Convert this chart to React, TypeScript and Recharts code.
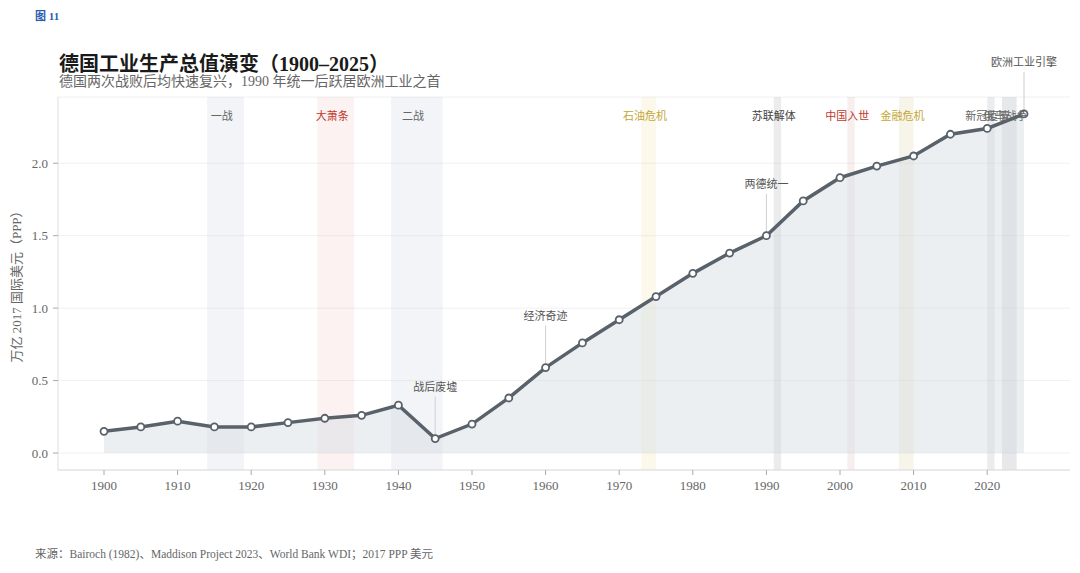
import {
  ComposedChart,
  Area,
  Line,
  XAxis,
  YAxis,
  CartesianGrid,
  ReferenceArea,
  ReferenceLine,
} from 'recharts';

const years = [
  1900, 1905, 1910, 1915, 1920, 1925, 1930, 1935, 1940, 1945, 1950, 1955, 1960,
  1965, 1970, 1975, 1980, 1985, 1990, 1995, 2000, 2005, 2010, 2015, 2020, 2025,
];
const output = [
  0.15, 0.18, 0.22, 0.18, 0.18, 0.21, 0.24, 0.26, 0.33, 0.1, 0.2, 0.38, 0.59,
  0.76, 0.92, 1.08, 1.24, 1.38, 1.5, 1.74, 1.9, 1.98, 2.05, 2.2, 2.24, 2.34,
];

const xTicks = [1900, 1910, 1920, 1930, 1940, 1950, 1960, 1970, 1980, 1990, 2000, 2010, 2020];
const yTicks = [0, 0.5, 1, 1.5, 2];

// historical events: band runs from start to end + 1
const eventNames = ['一战', '大萧条', '二战', '石油危机', '苏联解体', '中国入世', '金融危机', '新冠疫情', '俄乌战争'];
const eventStart = [1914, 1929, 1939, 1973, 1991, 2001, 2008, 2020, 2022];
const eventEnd = [1918, 1933, 1945, 1974, 1991, 2001, 2009, 2020, 2023];
const eventKind = ['war', 'depression', 'war', 'oil', 'geo', 'china', 'finance', 'covid', 'war2'];

const noteLabels = ['战后废墟', '经济奇迹', '两德统一', '欧洲工业引擎'];
const noteYears = [1945, 1960, 1990, 2025];

const kindStyle: Record<string, { band: string; opacity: number; text: string }> = {
  war: { band: '#c3cfd9', opacity: 0.22, text: '#666666' },
  depression: { band: '#f5b0b0', opacity: 0.16, text: '#c0392b' },
  oil: { band: '#eedc8a', opacity: 0.16, text: '#c4a735' },
  geo: { band: '#b5b5b5', opacity: 0.26, text: '#444444' },
  china: { band: '#d8b0aa', opacity: 0.2, text: '#c0392b' },
  finance: { band: '#d6cf98', opacity: 0.2, text: '#c4a735' },
  covid: { band: '#b0b5ba', opacity: 0.26, text: '#666666' },
  war2: { band: '#aeb3b8', opacity: 0.3, text: '#666666' },
};

const data = years.map((year, i) => ({ year, value: output[i] }));

const SERIF = "'Liberation Serif', 'Noto Sans CJK SC', serif";
const LINE = '#59616a';
const NOTE_RISE = 0.29;

export default function App() {
  return (
    <div
      style={{
        position: 'absolute',
        left: 0,
        top: 0,
        width: 1080,
        height: 573,
        background: '#ffffff',
        fontFamily: SERIF,
      }}
    >
      <div style={{ position: 'absolute', left: 35, top: 10, fontSize: 11, lineHeight: '12px', fontWeight: 700, color: '#2a5cb0' }}>
        图 11
      </div>
      <div style={{ position: 'absolute', left: 59, top: 53, fontSize: 20, lineHeight: '22px', fontWeight: 700, color: '#1a1a1a' }}>
        德国工业生产总值演变（1900–2025）
      </div>
      <div style={{ position: 'absolute', left: 59, top: 74, fontSize: 14, lineHeight: '16px', color: '#666666' }}>
        德国两次战败后均快速复兴，1990 年统一后跃居欧洲工业之首
      </div>

      <ComposedChart
        width={1080}
        height={573}
        data={data}
        margin={{ top: 97, right: 10, left: 0, bottom: 0 }}
      >
        <CartesianGrid stroke="#f0f0f0" vertical={false} />
        <XAxis
          dataKey="year"
          type="number"
          domain={[1893.75, 2031.25]}
          ticks={xTicks}
          allowDataOverflow
          height={103}
          tick={{ fill: '#666', fontSize: 13, fontFamily: SERIF }}
          axisLine={{ stroke: '#dddddd' }}
          tickLine={{ stroke: '#aaaaaa' }}
          tickSize={5}
          tickMargin={6}
        />
        <YAxis
          type="number"
          domain={[-0.117, 2.457]}
          ticks={yTicks}
          allowDataOverflow
          width={58}
          tickFormatter={(v) => v.toFixed(1)}
          tick={{ fill: '#666', fontSize: 13, fontFamily: SERIF }}
          axisLine={{ stroke: '#dddddd' }}
          tickLine={{ stroke: '#aaaaaa' }}
          tickSize={5}
          tickMargin={5}
          label={{
            value: '万亿 2017 国际美元（PPP）',
            angle: -90,
            position: 'insideLeft',
            offset: 16,
            style: { textAnchor: 'middle', fill: '#666', fontSize: 13, fontFamily: SERIF },
          }}
        />

        {eventNames.map((name, i) => (
          <ReferenceArea
            key={`band-${name}`}
            x1={eventStart[i]}
            x2={eventEnd[i] + 1}
            fill={kindStyle[eventKind[i]].band}
            fillOpacity={kindStyle[eventKind[i]].opacity}
            stroke="none"
          />
        ))}

        <Area
          dataKey="value"
          type="linear"
          baseValue={0}
          stroke="none"
          fill="#d5dce3"
          fillOpacity={0.45}
          isAnimationActive={false}
        />
        <Line
          dataKey="value"
          type="linear"
          stroke={LINE}
          strokeWidth={3.5}
          dot={{ r: 3.5, fill: '#ffffff', stroke: LINE, strokeWidth: 1.8 }}
          activeDot={false}
          isAnimationActive={false}
        />

        {eventNames.map((name, i) => (
          <ReferenceLine
            key={`label-${name}`}
            x={(eventStart[i] + eventEnd[i]) / 2}
            stroke="none"
            label={{
              value: name,
              position: 'insideTop',
              offset: 15,
              fill: kindStyle[eventKind[i]].text,
              fontSize: 11,
              fontFamily: SERIF,
            }}
          />
        ))}

        {noteLabels.map((name, i) => {
          const v = output[years.indexOf(noteYears[i])];
          return (
            <ReferenceLine
              key={`note-${name}`}
              segment={[
                { x: noteYears[i], y: v },
                { x: noteYears[i], y: v + NOTE_RISE },
              ]}
              ifOverflow="visible"
              stroke="#cfcfcf"
              strokeWidth={1}
              label={{
                value: name,
                position: 'top',
                offset: 6,
                fill: '#555555',
                fontSize: 11,
                fontFamily: SERIF,
              }}
            />
          );
        })}
      </ComposedChart>

      <div style={{ position: 'absolute', left: 35, top: 547, fontSize: 11.5, lineHeight: '14px', color: '#666666' }}>
        来源：Bairoch (1982)、Maddison Project 2023、World Bank WDI；2017 PPP 美元
      </div>
    </div>
  );
}
